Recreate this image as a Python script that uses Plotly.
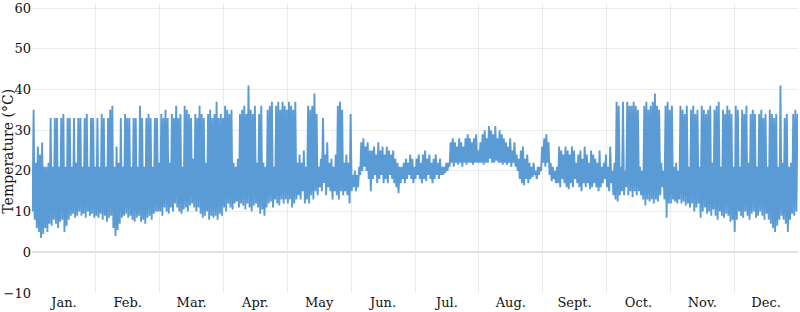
import plotly.graph_objects as go

months = ["Jan.", "Feb.", "Mar.", "Apr.", "May", "Jun.", "Jul.", "Aug.", "Sept.", "Oct.", "Nov.", "Dec."]

# Daily low / high temperatures (°C), 30 readings per month
jan_low = [10, 8, 6, 5, 3.5, 4.5, 6, 5, 7, 6.5, 8, 7, 6, 7.5, 8, 5, 6.5, 8, 9, 9.5, 8.5, 9, 10, 9, 9.5, 8.5, 10, 9, 9.5, 8.5]
jan_high = [35, 22, 26, 24, 27, 21, 21, 22, 33, 21, 33, 33, 21, 33, 34, 21, 33, 33, 21, 33, 22, 33, 33, 21, 33, 34, 21, 33, 33, 21]
feb_low = [9, 8.5, 9.5, 8, 9, 7.5, 8.5, 9, 6, 4, 5.5, 7, 8.5, 9, 9.5, 8.5, 9, 8, 7.5, 8.5, 9, 7.5, 8, 7, 8.5, 9, 8, 9.5, 10, 10]
feb_high = [33, 21, 34, 33, 21, 33, 35, 36, 21, 26, 22, 33, 21, 34, 33, 33, 21, 33, 33, 21, 36, 33, 21, 33, 34, 33, 21, 33, 33, 22]
mar_low = [10, 9, 11, 10, 9.5, 11, 10, 12, 11, 10, 9.5, 10.5, 11, 10, 11.5, 12, 11, 10, 11, 9.5, 8.5, 9, 10, 8, 9, 8.5, 9, 8, 9.5, 9]
mar_high = [34, 33, 35, 33, 22, 34, 33, 36, 33, 34, 21, 36, 35, 34, 33, 23, 34, 33, 36, 34, 33, 22, 34, 35, 33, 34, 37, 33, 34, 33]
apr_low = [11, 10, 12, 11, 10.5, 12, 12.5, 11, 12, 11.5, 10.5, 12, 11, 10, 11.5, 12, 11, 9.5, 10.5, 9, 11, 12, 12.5, 11, 13, 12, 11.5, 13, 12, 13]
apr_high = [36, 35, 34, 35, 22, 21, 23, 34, 35, 36, 34, 41, 35, 34, 36, 22, 34, 36, 22, 21, 35, 36, 37, 21, 36, 37, 35, 37, 36, 35]
may_low = [12, 13, 11, 12, 13, 14, 13, 15, 12, 13, 12, 14, 13, 15, 14, 16, 15, 17, 14, 16, 15, 13, 15, 14, 13, 15, 14, 15, 14, 12]
may_high = [37, 36, 35, 37, 22, 24, 22, 25, 21, 36, 35, 36, 39, 34, 21, 23, 33, 24, 27, 22, 23, 21, 24, 36, 37, 35, 22, 24, 22, 34]
jun_low = [15, 16, 15, 16, 19, 20, 21, 20, 18, 15, 18, 19, 17, 18, 19, 17, 18, 17, 19, 18, 17, 16, 14.5, 17, 18, 17, 18, 19, 18, 17]
jun_high = [19, 20, 19, 21, 27, 28, 26, 27, 25, 25, 26, 24, 27, 25, 26, 24, 26, 25, 24, 25, 23, 22, 21, 21, 22, 23, 22, 24, 23, 21]
jul_low = [18, 19, 18, 17, 18, 17.5, 19, 18, 17, 18, 19, 18, 19, 19, 19.5, 20, 21, 22, 21, 22, 21.5, 22, 21, 22, 21.5, 22, 22, 21.5, 22, 22]
jul_high = [23, 24, 22, 24, 25, 23, 24, 22, 23, 24, 22, 23, 21, 21, 22, 22, 27, 28, 27, 26, 28, 27, 26, 28, 29, 28, 27, 28, 29, 25]
aug_low = [22, 22, 21.5, 22, 22, 23, 22, 22, 22.5, 22, 22, 21.5, 22, 21.5, 22, 21, 22, 21, 20, 18, 17, 16.5, 18, 17, 18, 18.5, 19, 18, 19, 20]
aug_high = [27, 29, 30, 28, 31, 30, 29, 31, 28, 30, 29, 28, 27, 26, 28, 25, 27, 24, 23, 25, 26, 23, 24, 22, 21, 22, 20, 21, 21, 26]
sep_low = [22, 21, 22, 19, 17.5, 18, 17, 17, 16, 18, 17, 16, 15.5, 17, 16, 18, 17, 16, 15, 17, 16, 17, 15.5, 16, 17, 16, 15, 16, 17, 18]
sep_high = [28, 29, 27, 22, 21, 20, 21, 26, 25, 24, 26, 25, 24, 26, 25, 22, 24, 25, 23, 26, 24, 22, 25, 24, 23, 22, 25, 21, 22, 24]
oct_low = [16, 15, 17, 14, 13, 12.5, 14, 15, 14, 16, 14, 15, 13.5, 15, 14, 15, 14, 13, 11.5, 13, 12.5, 13, 12, 13, 12.5, 14, 16, 13, 8.5, 12]
oct_high = [21, 26, 20, 22, 37, 36, 21, 37, 20, 37, 36, 36, 37, 36, 35, 21, 20, 36, 37, 35, 36, 37, 39, 36, 35, 22, 20, 36, 37, 35]
nov_low = [12, 13, 12.5, 12, 13, 12, 12.5, 11.5, 12, 11, 12, 10, 11, 12, 8.5, 10, 11, 9.5, 10, 9, 10.5, 9, 8, 10, 9, 8.5, 9.5, 9, 7.5, 8]
nov_high = [36, 21, 22, 20, 36, 35, 34, 36, 21, 35, 36, 34, 35, 21, 36, 35, 34, 35, 36, 22, 35, 36, 37, 21, 35, 34, 36, 35, 34, 21]
dec_low = [5, 8, 10, 9, 8.5, 10, 9, 8, 9.5, 10, 8.5, 9, 10, 9, 8, 9.5, 8, 7, 6, 5, 6.5, 8, 9, 8, 7, 5, 8, 9.5, 9, 10]
dec_high = [36, 35, 21, 35, 34, 36, 22, 34, 35, 34, 21, 34, 35, 33, 34, 21, 35, 34, 33, 34, 21, 41, 22, 33, 34, 21, 22, 34, 35, 34]

lows = [jan_low, feb_low, mar_low, apr_low, may_low, jun_low, jul_low, aug_low, sep_low, oct_low, nov_low, dec_low]
highs = [jan_high, feb_high, mar_high, apr_high, may_high, jun_high, jul_high, aug_high, sep_high, oct_high, nov_high, dec_high]

xs, ys = [], []
for m, (lo, hi) in enumerate(zip(lows, highs)):
    n = len(lo)
    for d in range(n):
        xs.append(m + (d + 0.25) / n)
        ys.append(lo[d])
        xs.append(m + (d + 0.75) / n)
        ys.append(hi[d])

FONT = "DejaVu Serif"
FSIZE = 13

fig = go.Figure()
fig.add_trace(go.Scatter(x=xs, y=ys, mode="lines",
                         line=dict(color="#5b9bd5", width=1.9),
                         hoverinfo="skip", showlegend=False))

fig.update_layout(
    width=800, height=312,
    margin=dict(l=32, r=2, t=1, b=19),
    paper_bgcolor="white", plot_bgcolor="white",
    font=dict(family=FONT, size=FSIZE, color="#111"),
    showlegend=False,
    xaxis=dict(
        range=[0, 12],
        tickmode="array",
        tickvals=[i + 0.5 for i in range(12)],
        ticktext=months,
        showgrid=False,
        zeroline=False,
        showline=False,
        ticks="",
        tickfont=dict(family=FONT, size=FSIZE, color="#111"),
        minor=dict(tickmode="array", tickvals=list(range(13)), showgrid=True,
                   gridcolor="#ebebeb", gridwidth=1, ticks=""),
        fixedrange=True,
    ),
    yaxis=dict(
        range=[-10, 61],
        tickmode="array",
        tickvals=[-10, 0, 10, 20, 30, 40, 50, 60],
        showgrid=True, gridcolor="#ebebeb", gridwidth=1,
        zeroline=True, zerolinecolor="#e2e2e2", zerolinewidth=2,
        showline=False, ticks="",
        ticklabeloverflow="allow",
        tickfont=dict(family=FONT, size=FSIZE, color="#111"),
        fixedrange=True,
    ),
    annotations=[dict(
        text="Temperature (°C)", textangle=-90,
        xref="paper", yref="paper", x=-0.031, y=0.49,
        xanchor="center", yanchor="middle", showarrow=False,
        font=dict(family=FONT, size=14, color="#111"),
    )],
)

fig.write_html("out.html")
